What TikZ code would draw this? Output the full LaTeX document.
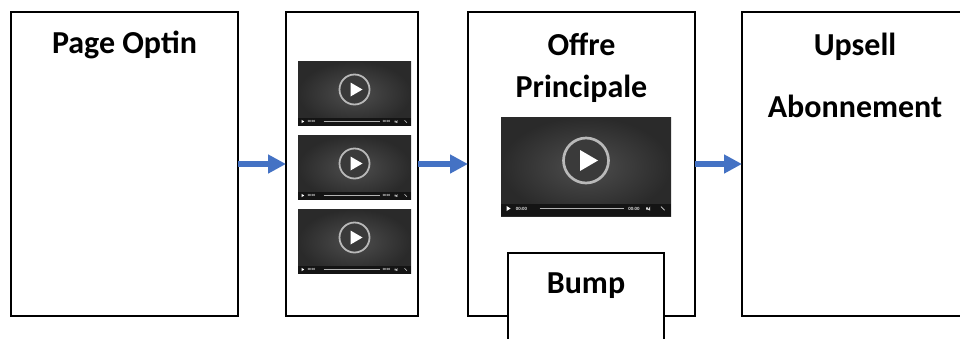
\documentclass[tikz,border=0pt]{standalone}
\usepackage{fontspec}
\setmainfont{Carlito}
\usetikzlibrary{positioning,arrows.meta,calc}
\definecolor{flowblue}{RGB}{68,114,196}
\tikzset{
  page/.style = {draw=black, line width=2.5pt, fill=white, inner sep=0pt,
    outer sep=0pt, minimum height=304pt},
  title/.style = {font=\fontsize{32}{38}\selectfont\bfseries, inner sep=0pt,
    anchor=base},
  flow/.style = {-{Triangle[length=18pt,width=18pt]}, line width=6pt, flowblue},
  thumb/.style = {inner sep=0pt, outer sep=0pt, shading=radial,
    inner color={rgb,255:red,78;green,78;blue,78},
    outer color={rgb,255:red,42;green,42;blue,42}},
  tiny/.style = {font=\fontsize{3.2}{3.2}\selectfont\bfseries, white!90!black,
    inner sep=0pt, transform shape}
}
% lecteur video : barre, bouton play
\newcommand{\playerbits}[2]{%
  \fill[black!92] (#1.south west) rectangle ([yshift=#2*8pt]#1.south east);
  \begin{scope}[shift={(#1.center)}, scale=#2]
    \draw[gray!60, line width=#2*1.3pt] (-31,28) -- (25,28);
    \fill[white] (-53,26.3) -- (-53,29.7) -- (-50.3,28) -- cycle;
    \node[tiny] (#1-t1) at (-43,28) {00:00};
    \node[tiny] (#1-t2) at (32,28) {00:00};
    \fill[white!85!black] (40,27.2) rectangle (41.2,28.8) -- (42.8,26.6) -- (42.8,29.4) -- (41.2,28.8);
    \draw[white!85!black, line width=#2*0.5pt] (50,26.8) -- (52.4,29.2);
    \draw[gray!55, line width=#2*1.8pt, fill={rgb,255:red,58;green,58;blue,58}]
      (0,-4) circle (15);
    \fill[white] (-4,-11) -- (-4,3) -- (8,-4) -- cycle;
  \end{scope}
}

\begin{document}
\begin{tikzpicture}[x=1pt,y=-1pt]
\clip (0,0) rectangle (960,338);
\fill[white] (0,0) rectangle (960,338);

\node [page, minimum width=227pt] (optin) at (124.5,164) {};
\node [page, minimum width=132pt] (videos) at (352,164) {};
\node [page, minimum width=227pt] (offre) at (581.5,164) {};
\node [page, minimum width=226pt] (upsell) at (855,164) {};
\node [page, minimum width=156pt, minimum height=120pt, anchor=north]
  (bump) at ([xshift=4.5pt,yshift=63pt]offre.south) {};

\node [title] (optinlbl) at ([yshift=-41pt]optin.north) {Page Optin};
\node [title] (offrelbl) at ([yshift=-43pt]offre.north) {Offre};
\node [title] (princlbl) at ([yshift=-42pt]offrelbl.base) {Principale};
\node [title] (upselllbl) at ([yshift=-43pt]upsell.north) {Upsell};
\node [title] (abonlbl) at ([yshift=-62pt]upselllbl.base) {Abonnement};
\node [title] (bumplbl) at ([yshift=-40pt]bump.north) {Bump};

% les trois videos
\node [thumb, minimum width=113pt, minimum height=64.5pt] (v1) at (354.5,93.5) {};
\node [thumb, minimum width=113pt, minimum height=64.5pt, below=9.5pt of v1] (v2) {};
\node [thumb, minimum width=113pt, minimum height=64.5pt, below=9.5pt of v2] (v3) {};
\node [thumb, minimum width=170pt, minimum height=99pt] (vbig) at (586,166.5) {};
\playerbits{v1}{1}
\playerbits{v2}{1}
\playerbits{v3}{1}
\playerbits{vbig}{1.5}

\draw [flow] (optin.east) -- (videos.west);
\draw [flow] (videos.east) -- (offre.west);
\draw [flow] (offre.east) -- (upsell.west);
\end{tikzpicture}
\end{document}
